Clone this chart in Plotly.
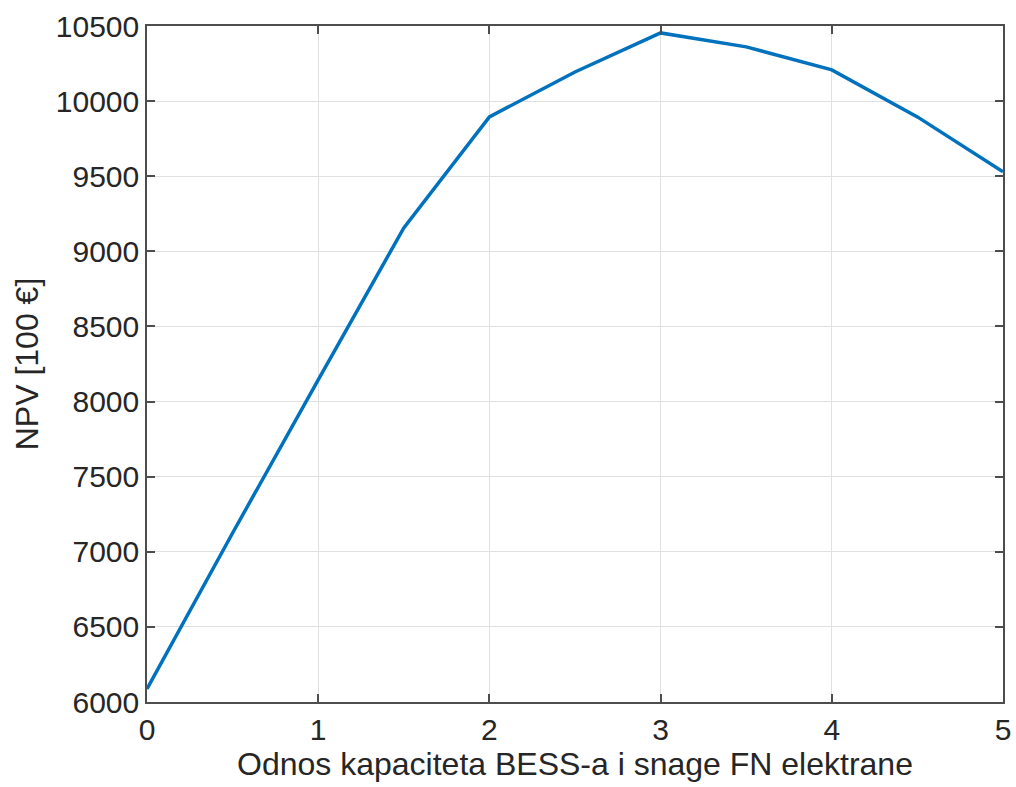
import plotly.graph_objects as go

ratio = [0, 0.5, 1, 1.5, 2, 2.5, 3, 3.5, 4, 4.5, 5]
npv = [6087, 7125, 8144, 9156, 9895, 10194, 10454, 10361, 10208, 9895, 9529]

x_ticks = [0, 1, 2, 3, 4, 5]
y_ticks = [6000, 6500, 7000, 7500, 8000, 8500, 9000, 9500, 10000, 10500]

axis_color = "#4d4d4d"
text_color = "#262626"
font_family = "Liberation Sans, Arial, sans-serif"

fig = go.Figure()
fig.add_trace(go.Scatter(
    x=ratio, y=npv, mode="lines",
    line=dict(color="#0072BD", width=3.5),
    showlegend=False,
))

common = dict(
    showline=True, linecolor=axis_color, linewidth=1.5, mirror="allticks",
    ticks="inside", ticklen=8, tickwidth=1.5, tickcolor=axis_color,
    showgrid=True, gridcolor="#e0e0e0", gridwidth=1,
    zeroline=False,
    tickfont=dict(family=font_family, size=30, color=text_color),
)

fig.update_xaxes(
    range=[0, 5], tickvals=x_ticks, ticktext=[str(v) for v in x_ticks],
    title=dict(text="Odnos kapaciteta BESS-a i snage FN elektrane",
               font=dict(family=font_family, size=32, color=text_color), standoff=4),
    **common,
)
fig.update_yaxes(
    range=[6000, 10500], tickvals=y_ticks, ticktext=[str(v) for v in y_ticks],
    title=dict(text="NPV [100 €]",
               font=dict(family=font_family, size=32, color=text_color), standoff=8),
    **common,
)

fig.update_layout(
    width=1016, height=787,
    margin=dict(l=147, r=13, t=26, b=85, autoexpand=False),
    paper_bgcolor="white", plot_bgcolor="white",
    font=dict(family=font_family, color=text_color),
)

fig.write_html("out.html")
